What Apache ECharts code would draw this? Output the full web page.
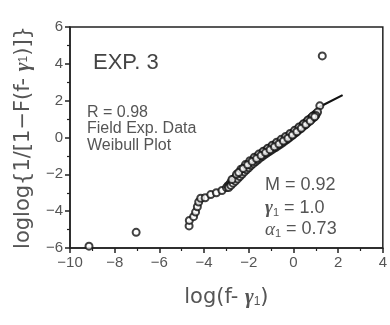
<!DOCTYPE html>
<html><head><meta charset="utf-8">
<script src="https://cdn.jsdelivr.net/npm/echarts@6/dist/echarts.min.js"></script>
<style>html,body{margin:0;padding:0;background:#fff}#c{width:390px;height:325px}</style>
</head><body><div id="c"></div>
<script>
const xTicks = [-10, -8, -6, -4, -2, 0, 2, 4];
const yTicks = [-6, -4, -2, 0, 2, 4, 6];
// outliers and low-end points
const sparsePoints = [
  [-9.15, -5.9], [-7.04, -5.15], [1.29, 4.43], [1.18, 1.72],
  [-4.67, -4.8], [-4.66, -4.5], [-4.47, -4.3], [-4.38, -4.05], [-4.3, -3.76],
  [-4.24, -3.5], [-4.15, -3.3], [-3.95, -3.27], [-3.7, -3.1], [-3.45, -3.0],
  [-3.2, -2.88]
];
// dense band of data
const denseX = [-3.0,-2.93,-2.86,-2.8,-2.74,-2.67,-2.6,-2.52,-2.45,-2.38,-2.3,-2.22,-2.15,-2.08,-2.0,-1.92,-1.85,-1.77,-1.7,-1.62,-1.55,-1.47,-1.4,-1.32,-1.25,-1.17,-1.1,-1.02,-0.95,-0.88,-0.8,-0.72,-0.65,-0.57,-0.5,-0.42,-0.35,-0.27,-0.2,-0.12,-0.05,0.03,0.1,0.18,0.25,0.33,0.4,0.47,0.55,0.62,0.7,0.77,0.84,0.9,0.96,1.02,1.08];
const denseY = [-2.72,-2.62,-2.55,-2.42,-2.38,-2.25,-2.18,-2.05,-1.98,-1.86,-1.78,-1.66,-1.6,-1.5,-1.44,-1.33,-1.28,-1.18,-1.12,-1.03,-0.98,-0.9,-0.85,-0.78,-0.72,-0.66,-0.6,-0.55,-0.48,-0.44,-0.38,-0.32,-0.26,-0.21,-0.14,-0.1,-0.03,0.03,0.1,0.16,0.22,0.3,0.37,0.44,0.5,0.58,0.65,0.72,0.8,0.88,0.96,1.04,1.1,1.17,1.24,1.3,1.38];
// second strand of the band (slightly lower)
const dense2X = [-2.9,-2.8,-2.7,-2.6,-2.5,-2.4,-2.3,-2.2,-2.1,-2.0,-1.9,-1.8,-1.7,-1.6,-1.5,-1.4,-1.3,-1.2,-1.1,-1.0,-0.9,-0.8,-0.7,-0.6,-0.5,-0.4,-0.3,-0.2,-0.1,0.0,0.1,0.2,0.3,0.4,0.5,0.6,0.7,0.8,0.9,1.0];
const dense2Y = [-2.72,-2.6,-2.48,-2.37,-2.25,-2.12,-2.0,-1.87,-1.75,-1.64,-1.52,-1.42,-1.32,-1.22,-1.12,-1.03,-0.94,-0.86,-0.78,-0.7,-0.62,-0.54,-0.46,-0.38,-0.3,-0.21,-0.12,-0.03,0.06,0.16,0.26,0.36,0.46,0.56,0.66,0.76,0.86,0.97,1.08,1.2];
// third strand (slightly upper)
const dense3X = [-2.75,-2.55,-2.35,-2.15,-1.95,-1.75,-1.55,-1.35,-1.15,-0.95,-0.75,-0.55,-0.35,-0.15,0.05,0.25,0.45,0.65,0.85];
const dense3Y = [-2.28,-2.0,-1.72,-1.47,-1.26,-1.07,-0.9,-0.74,-0.58,-0.42,-0.26,-0.1,0.06,0.22,0.39,0.57,0.75,0.95,1.15];
// fourth strand (between)
const dense4X = [-2.45,-2.25,-2.05,-1.85,-1.65,-1.45,-1.25,-1.05,-0.85,-0.65,-0.45,-0.25,-0.05,0.15,0.35,0.55,0.75,0.95];
const dense4Y = [-1.9,-1.68,-1.48,-1.3,-1.14,-0.98,-0.82,-0.66,-0.5,-0.35,-0.19,-0.04,0.13,0.31,0.5,0.7,0.9,1.12];
const fitX = [-3.0, 1.2, 2.2];
const fitY = [-2.75, 1.68, 2.3];

const pts = sparsePoints.concat(
  denseX.map((x,i)=>[x,denseY[i]]),
  dense2X.map((x,i)=>[x,dense2Y[i]]),
  dense3X.map((x,i)=>[x,dense3Y[i]]),
  dense4X.map((x,i)=>[x,dense4Y[i]]));
const fit = fitX.map((x,i)=>[x,fitY[i]]);
const FONT = '"Liberation Sans",Arial,sans-serif';
const TFONT = '"DejaVu Sans",sans-serif';
const fmt = v => String(v).replace('-', '\u2212');

const chart = echarts.init(document.getElementById('c'), null, {renderer:'canvas'});
chart.setOption({
  animation:false,
  backgroundColor:'#fff',
  grid:{left:70,right:5,top:27,bottom:77,show:true,borderColor:'#222',borderWidth:1.5,backgroundColor:'transparent'},
  xAxis:{type:'value',min:xTicks[0],max:xTicks[xTicks.length-1],interval:2,
    axisLine:{show:true,onZero:false,lineStyle:{color:'#222',width:1.5}},
    axisTick:{show:true,length:5,lineStyle:{color:'#222',width:1.5}},
    minorTick:{show:true,splitNumber:2,length:3,lineStyle:{color:'#222',width:1.2}},
    splitLine:{show:false},
    axisLabel:{color:'#555',fontSize:15,fontFamily:FONT,margin:7,formatter:fmt},
    name:'log(f- {g|γ}{s|1})',nameLocation:'middle',nameGap:39,
    nameTextStyle:{color:'#555',fontSize:21,fontFamily:TFONT,
      rich:{g:{fontSize:21,fontStyle:'italic',fontWeight:'bold',color:'#555',fontFamily:'serif'},s:{fontSize:12,color:'#555',verticalAlign:'bottom',padding:[9,0,0,0],fontFamily:FONT}}}
  },
  yAxis:{type:'value',min:yTicks[0],max:yTicks[yTicks.length-1],interval:2,
    axisLine:{show:true,onZero:false,lineStyle:{color:'#222',width:1.5}},
    axisTick:{show:true,length:5,lineStyle:{color:'#222',width:1.5}},
    minorTick:{show:true,splitNumber:2,length:3,lineStyle:{color:'#222',width:1.2}},
    splitLine:{show:false},
    axisLabel:{color:'#555',fontSize:15,fontFamily:FONT,margin:7,formatter:fmt},
    name:'loglog{1/[1−F(f- {g|γ}{s|1})]}',nameLocation:'middle',nameGap:36,nameRotate:90,
    nameTextStyle:{color:'#555',fontSize:21,fontFamily:TFONT,
      rich:{g:{fontSize:21,fontStyle:'italic',fontWeight:'bold',color:'#555',fontFamily:'serif'},s:{fontSize:12,color:'#555',fontFamily:FONT}}}
  },
  series:[
    {type:'line',data:fit,showSymbol:false,symbol:'none',lineStyle:{color:'#111',width:2.2},z:1},
    {type:'scatter',data:pts,symbol:'circle',symbolSize:7,
      itemStyle:{color:'#fff',borderColor:'#111',borderWidth:2},z:2}
  ],
  graphic:[
    {type:'text',left:93,top:52,style:{text:'EXP. 3',fill:'#444',font:'22px '+FONT}},
    {type:'text',left:87,top:104,style:{text:'R = 0.98\nField Exp. Data\nWeibull Plot',fill:'#555',font:'16px '+FONT,lineHeight:16.5}},
    {type:'text',left:265,top:176,style:{text:'M = 0.92',fill:'#555',font:'18px '+FONT}},
    {type:'text',left:265,top:199,style:{rich:{g:{font:'italic bold 19px serif',fill:'#555'},s:{font:'11px '+FONT,fill:'#555',padding:[9,0,0,0]},t:{font:'18px '+FONT,fill:'#555'}},text:'{g|γ}{s|1}{t| = 1.0}'}},
    {type:'text',left:265,top:220,style:{rich:{g:{font:'italic 19px serif',fill:'#555'},s:{font:'11px '+FONT,fill:'#555',padding:[9,0,0,0]},t:{font:'18px '+FONT,fill:'#555'}},text:'{g|α}{s|1}{t| = 0.73}'}}
  ]
});
</script></body></html>
